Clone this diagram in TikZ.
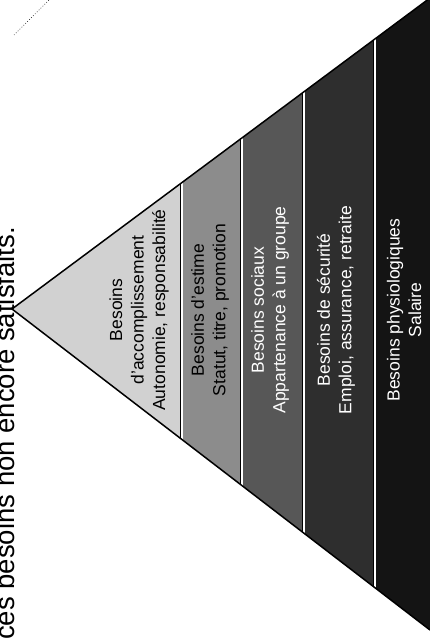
\documentclass[tikz,border=0pt]{standalone}
\usepackage{fontspec}
\setmainfont{Liberation Sans}
\tikzset{
  lvA/.style={fill=black!18},
  lvB/.style={fill=black!45},
  lvC/.style={fill=black!66},
  lvD/.style={fill=black!82},
  lvE/.style={fill=black!92},
  lab/.style={rotate=90, align=center, inner sep=0pt, font=\fontsize{17.5}{21.5}\selectfont},
  sepwhite/.style={white, line width=3pt},
  sepblack/.style={black, line width=1pt},
}
\begin{document}
\begin{tikzpicture}[x=1pt,y=-1pt]
\useasboundingbox (0,0) rectangle (430,644);
\clip (0,0) rectangle (430,644);
\coordinate (A) at (12,309);
\coordinate (T) at (430,-2);
\coordinate (B) at (430,630);
\begin{scope}
  \clip (A) -- (T) -- (B) -- cycle;
  \fill[lvA] (0,-10) rectangle (180,650);
  \fill[lvB] (180,-10) rectangle (240,650);
  \fill[lvC] (240,-10) rectangle (302,650);
  \fill[lvD] (302,-10) rectangle (373,650);
  \fill[lvE] (373,-10) rectangle (440,650);
  \foreach \xx in {180,240,302,373} {
    \draw[sepwhite] (\xx+1.5,-10) -- (\xx+1.5,650);
    \draw[sepblack] (\xx,-10) -- (\xx,650);
  }
\end{scope}
\draw[line width=1.5pt, line join=miter] (T) -- (A) -- (B);
\draw[dotted, line width=0.7pt] (14,35) -- (49,0);
\node[lab] (n1) at (139,310) {Besoins\\d'accomplissement\\Autonomie, responsabilité};
\node[lab] (n2) at (210,310) {Besoins d'estime\\Statut, titre, promotion};
\node[lab, white] (n3) at (270,310) {Besoins sociaux\\Appartenance à un groupe};
\node[lab, white] (n4) at (336,310) {Besoins de sécurité\\Emploi, assurance, retraite};
\node[lab, white] (n5) at (404,310) {Besoins physiologiques\\Salaire};
\node[rotate=90, anchor=base west, inner sep=0pt, font=\fontsize{27.5}{30}\selectfont] (title) at (14,640) {ces besoins non encore satisfaits.};
\end{tikzpicture}
\end{document}
